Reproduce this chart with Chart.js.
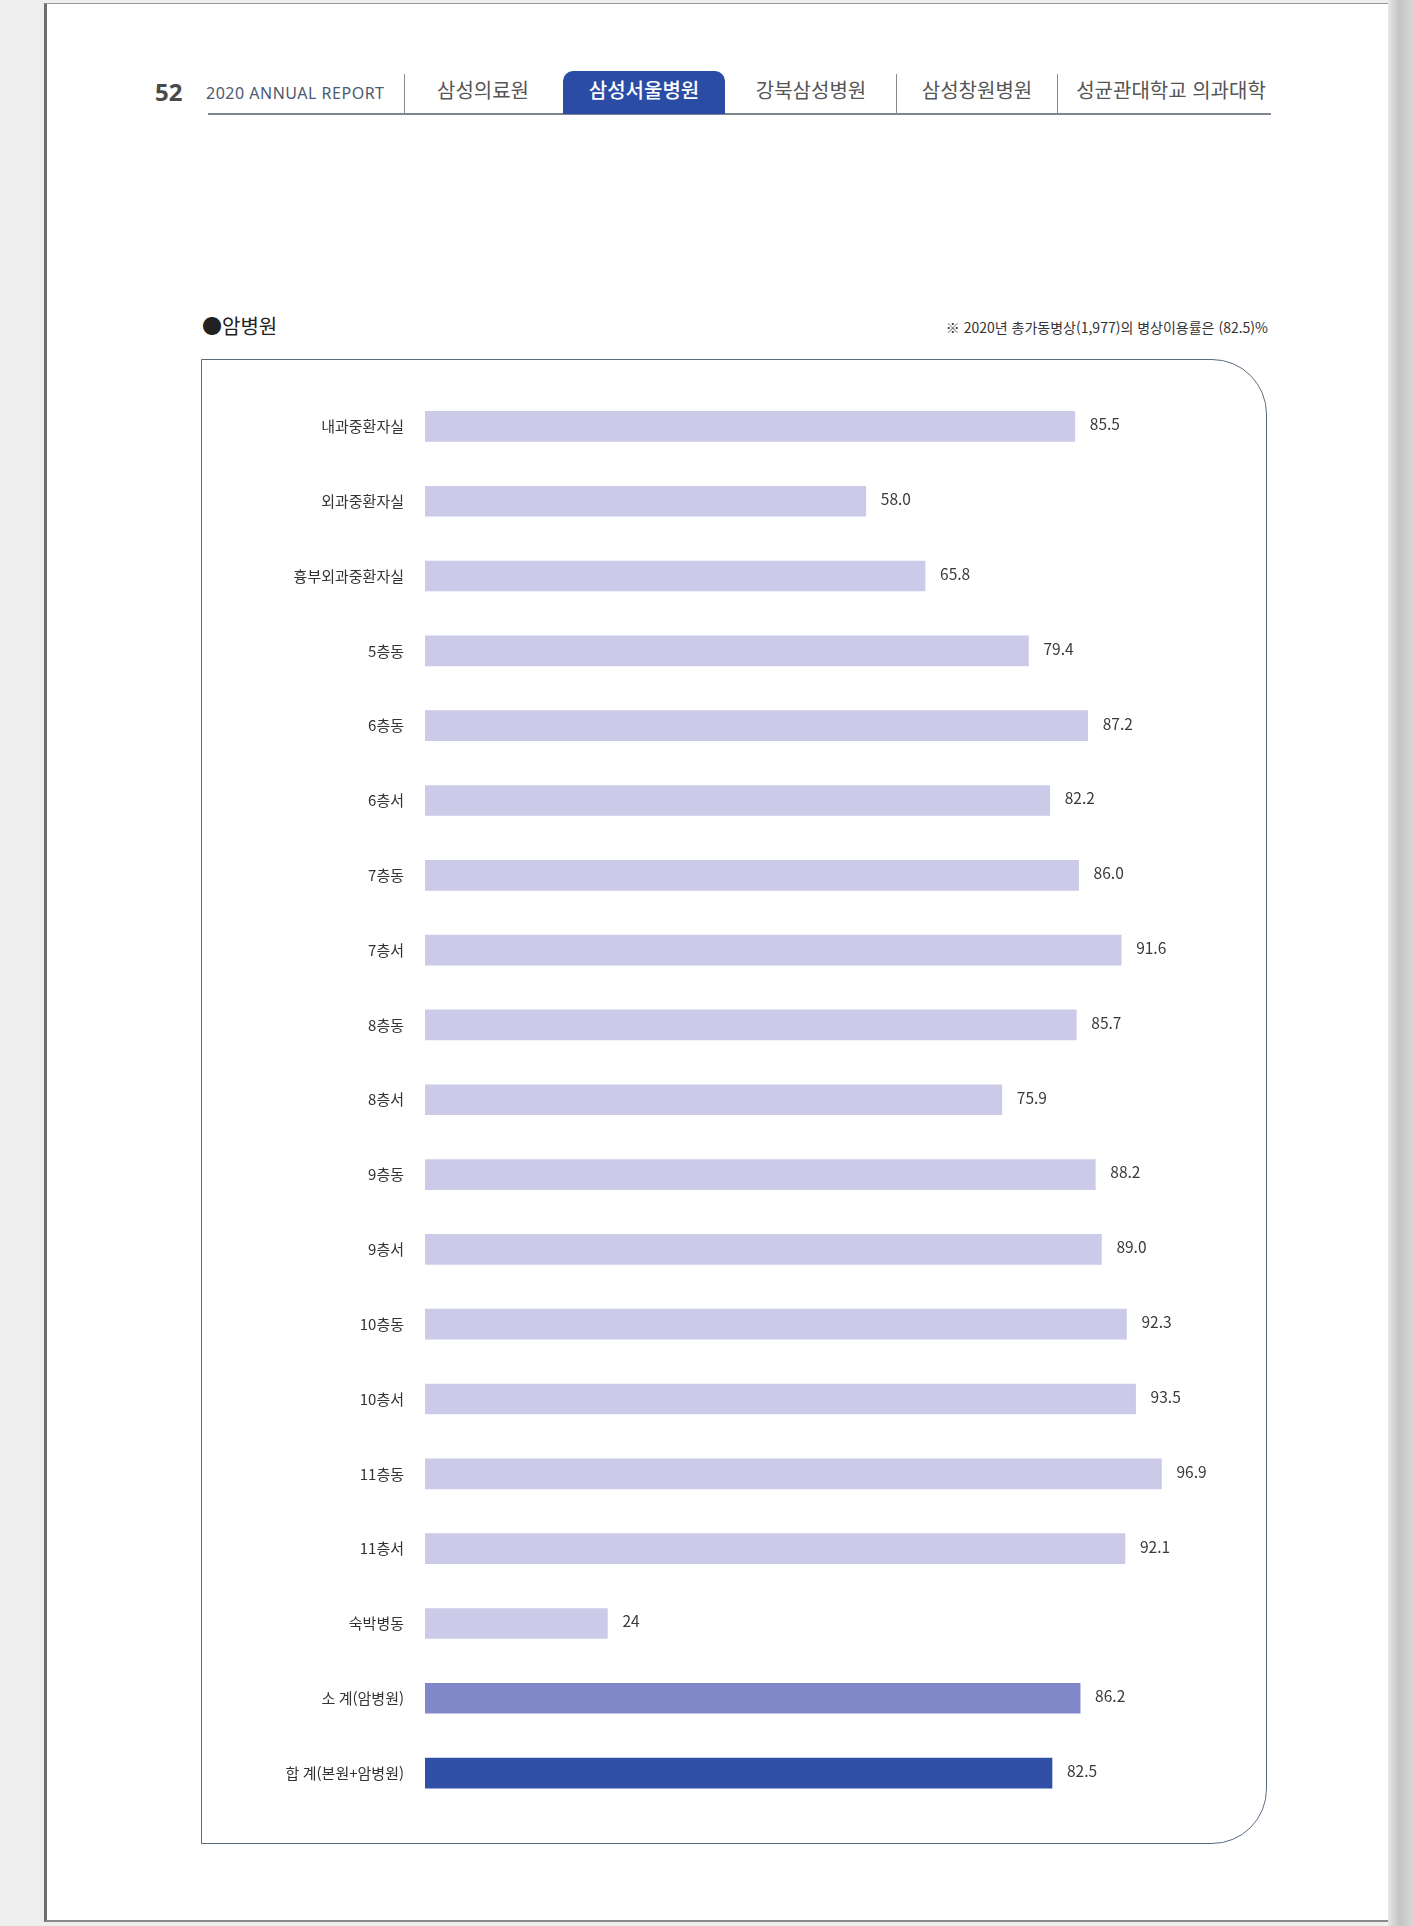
<!DOCTYPE html>
<html lang="ko">
<head>
<meta charset="utf-8">
<script src="https://cdn.jsdelivr.net/npm/chart.js@4"></script>
<style>
  html, body { margin:0; padding:0; }
  body { width:1414px; height:1926px; background:#eeeeee; position:relative; overflow:hidden;
         font-family:"Noto Sans CJK KR","Noto Sans",sans-serif; }
  #page { position:absolute; left:44px; top:3px; width:1346px; height:1919px; background:#fff;
          border-left:3px solid #6e6e6e; border-top:1px solid #9a9a9a; border-bottom:2px solid #8a8a8a; box-sizing:border-box; }
  #shadow { position:absolute; left:1388px; top:0; width:26px; height:1926px;
            background:linear-gradient(to right,#e6e6e6,#c4c4c4 45%,#d8d8d8); }
  .abs { position:absolute; white-space:nowrap; }
  #pnum { left:155px; top:75px; font-size:24px; font-weight:700; color:#4a4a4a; font-family:"Noto Sans",sans-serif; }
  #rep { left:206px; top:82px; font-size:16px; color:#4b5a70; letter-spacing:0.5px; font-family:"Noto Sans",sans-serif; }
  #tabline { left:208px; top:113px; width:1063px; height:2px; background:#7d8590; }
  .sep { top:74px; width:1px; height:39px; background:#8a8a8a; }
  #active { left:563px; top:71px; width:162px; height:43px; background:#2b4ca5; border-radius:10px 10px 0 0; }
  .tab { top:75px; font-size:20px; color:#555; transform:translateX(-50%); }
  .tab.on { color:#fff; font-weight:500; }
  #title { left:202px; top:311px; font-size:20px; color:#222; }
  #note { right:146px; top:317px; font-size:14px; color:#333; }
  #box { position:absolute; left:201px; top:359px; width:1066px; height:1485px; box-sizing:border-box;
         border:1.5px solid #5b6b82; border-radius:0 55px 55px 0; }
  #wrap { position:absolute; left:201px; top:359px; width:1066px; height:1485px; }
</style>
</head>
<body>
<div id="page"></div>
<div id="shadow"></div>
<div class="abs" id="pnum">52</div>
<div class="abs" id="rep">2020 ANNUAL REPORT</div>
<div class="abs" id="tabline"></div>
<div class="abs sep" style="left:404px"></div>
<div class="abs sep" style="left:896px"></div>
<div class="abs sep" style="left:1057px"></div>
<div class="abs" id="active"></div>
<div class="abs tab" style="left:483px">삼성의료원</div>
<div class="abs tab on" style="left:644px">삼성서울병원</div>
<div class="abs tab" style="left:811px">강북삼성병원</div>
<div class="abs tab" style="left:977px">삼성창원병원</div>
<div class="abs tab" style="left:1171px">성균관대학교 의과대학</div>
<div class="abs" id="title">●암병원</div>
<div class="abs" id="note">※ 2020년 총가동병상(1,977)의 병상이용률은 (82.5)%</div>
<div id="box"></div>
<div id="wrap"><canvas id="c" width="1066" height="1485"></canvas></div>
<script>
const categories = ["내과중환자실","외과중환자실","흉부외과중환자실","5층동","6층동","6층서","7층동","7층서","8층동","8층서","9층동","9층서","10층동","10층서","11층동","11층서","숙박병동","소 계(암병원)","합 계(본원+암병원)"];
const values = [85.5,58.0,65.8,79.4,87.2,82.2,86.0,91.6,85.7,75.9,88.2,89.0,92.3,93.5,96.9,92.1,24,86.2,82.5];
const valueLabels = ["85.5","58.0","65.8","79.4","87.2","82.2","86.0","91.6","85.7","75.9","88.2","89.0","92.3","93.5","96.9","92.1","24","86.2","82.5"];
const LIGHT = "#cbcae9", MID = "#8088c9", DARK = "#3050a8";
const barColors = categories.map((c, i) => i === categories.length - 1 ? DARK : (i === categories.length - 2 ? MID : LIGHT));

const valuePlugin = {
  id: 'valueLabels',
  afterDatasetsDraw(chart) {
    const ctx = chart.ctx;
    const meta = chart.getDatasetMeta(0);
    ctx.save();
    ctx.font = '400 15.5px "Noto Sans CJK KR", "Noto Sans", sans-serif';
    ctx.fillStyle = '#3a3a3a';
    ctx.textAlign = 'left';
    ctx.textBaseline = 'middle';
    meta.data.forEach((bar, i) => {
      ctx.fillText(valueLabels[i], bar.x + 15, bar.y - 2);
    });
    ctx.restore();
  }
};

new Chart(document.getElementById('c'), {
  type: 'bar',
  data: {
    labels: categories,
    datasets: [{ data: values, backgroundColor: barColors, barThickness: 30, borderWidth: 0 }]
  },
  options: {
    indexAxis: 'y',
    responsive: false,
    animation: false,
    events: [],
    layout: { padding: { left: 0, top: 28.5, bottom: 33.5, right: 82 } },
    plugins: { legend: { display: false }, tooltip: { enabled: false } },
    scales: {
      x: { display: false, min: 0, max: 100 },
      y: {
        grid: { display: false, drawTicks: false },
        border: { display: false },
        ticks: { padding: 21, color: '#333', font: { family: '"Noto Sans CJK KR", sans-serif', size: 15, weight: '400' } },
        afterFit(scale) { scale.width = 224; }
      }
    }
  },
  plugins: [valuePlugin]
});
</script>
</body>
</html>
